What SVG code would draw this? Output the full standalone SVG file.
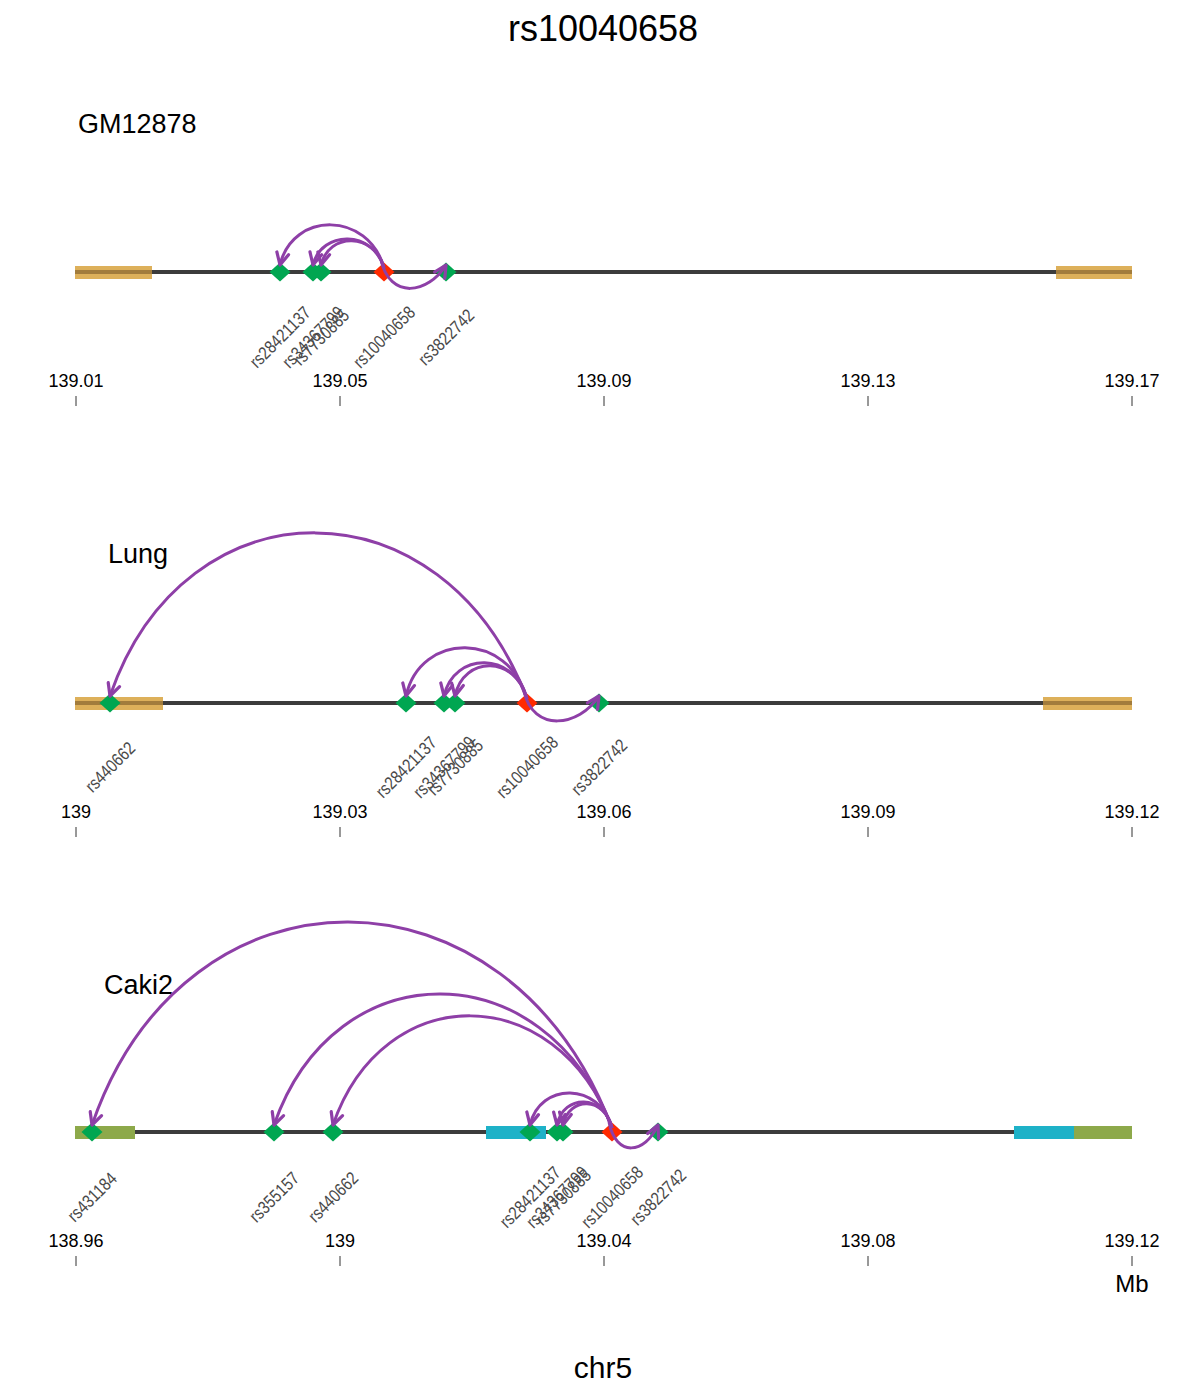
<svg xmlns="http://www.w3.org/2000/svg" xmlns:xlink="http://www.w3.org/1999/xlink" width="1200" height="1400" viewBox="0 0 1200 1400">
<style>
text{font-family:"Liberation Sans",Arial,sans-serif}
.title{font-size:36px;fill:#000;text-anchor:middle}
.panel{font-size:27px;fill:#000}
.tick{font-size:18px;fill:#000;text-anchor:middle}
.axis{font-size:30px;fill:#000;text-anchor:middle}
.snp{font-size:18px;fill:#4a4a4a;text-anchor:middle}
.track{stroke:#3c3c3c;stroke-width:4}
.tk{stroke:#333;stroke-width:1}
.gold{fill:#DDB05A}
.band{fill:#A27C3C}
.cyan{fill:#1EB2C8}
.olive{fill:#8DA94A}
.g{fill:#00A651}
.r{fill:#FF2A00}
.arc{fill:none;stroke:#8E3FA7;stroke-width:3;marker-end:url(#ah)}
</style>
<defs>
<path id="dia" d="M0,-9.5 L10.5,0 L0,9.5 L-10.5,0Z"/>
<marker id="ah" viewBox="0 0 16 16" refX="14" refY="8" markerWidth="16" markerHeight="16" markerUnits="userSpaceOnUse" orient="auto">
<path d="M2,2 L14,8 L2,14" fill="none" stroke="#8E3FA7" stroke-width="3.2" stroke-linecap="round" stroke-linejoin="round"/>
</marker>
</defs>
<rect width="1200" height="1400" fill="#fff"/>
<text class="title" x="603" y="41">rs10040658</text>

<!-- Panel 1 GM12878 -->
<g id="panel-gm12878">
<text class="panel" x="78" y="133">GM12878</text>
<line class="track" x1="75" y1="272" x2="1132" y2="272"/>
<rect id="gm-box1" class="gold" x="75" y="266" width="77" height="13"/>
<rect class="band" x="75" y="270" width="77" height="4"/>
<rect id="gm-box2" class="gold" x="1056" y="266" width="76" height="13"/>
<rect class="band" x="1056" y="270" width="76" height="4"/>
<g id="gm-axis">
<text class="tick" x="76" y="387">139.01</text><line class="tk" x1="76" y1="396" x2="76" y2="406"/>
<text class="tick" x="340" y="387">139.05</text><line class="tk" x1="340" y1="396" x2="340" y2="406"/>
<text class="tick" x="604" y="387">139.09</text><line class="tk" x1="604" y1="396" x2="604" y2="406"/>
<text class="tick" x="868" y="387">139.13</text><line class="tk" x1="868" y1="396" x2="868" y2="406"/>
<text class="tick" x="1132" y="387">139.17</text><line class="tk" x1="1132" y1="396" x2="1132" y2="406"/>
</g>
</g>
<g id="gm-rs28421137"><use href="#dia" class="g" x="280" y="272"/><text class="snp" transform="translate(280,337) rotate(-45) scale(0.83,1)" dy="0.35em">rs28421137</text></g>
<g id="gm-rs34367799"><use href="#dia" class="g" x="313" y="272"/><text class="snp" transform="translate(313,337) rotate(-45) scale(0.83,1)" dy="0.35em">rs34367799</text></g>
<g id="gm-rs7730885"><use href="#dia" class="g" x="321" y="272"/><text class="snp" transform="translate(321,337) rotate(-45) scale(0.83,1)" dy="0.35em">rs7730885</text></g>
<g id="gm-rs10040658"><use href="#dia" class="r" x="384" y="272"/><text class="snp" transform="translate(384,337) rotate(-45) scale(0.83,1)" dy="0.35em">rs10040658</text></g>
<g id="gm-rs3822742"><use href="#dia" class="g" x="446" y="272"/><text class="snp" transform="translate(446,337) rotate(-45) scale(0.83,1)" dy="0.35em">rs3822742</text></g>

<!-- Panel 2 Lung -->
<g id="panel-lung">
<text class="panel" x="108" y="563">Lung</text>
<line class="track" x1="75" y1="703" x2="1132" y2="703"/>
<rect id="lung-box1" class="gold" x="75" y="697" width="88" height="13"/>
<rect class="band" x="75" y="701" width="88" height="4"/>
<rect id="lung-box2" class="gold" x="1043" y="697" width="89" height="13"/>
<rect class="band" x="1043" y="701" width="89" height="4"/>
<g id="lung-axis">
<text class="tick" x="76" y="818">139</text><line class="tk" x1="76" y1="827" x2="76" y2="837"/>
<text class="tick" x="340" y="818">139.03</text><line class="tk" x1="340" y1="827" x2="340" y2="837"/>
<text class="tick" x="604" y="818">139.06</text><line class="tk" x1="604" y1="827" x2="604" y2="837"/>
<text class="tick" x="868" y="818">139.09</text><line class="tk" x1="868" y1="827" x2="868" y2="837"/>
<text class="tick" x="1132" y="818">139.12</text><line class="tk" x1="1132" y1="827" x2="1132" y2="837"/>
</g>
</g>
<g id="lung-rs440662"><use href="#dia" class="g" x="110" y="703"/><text class="snp" transform="translate(110,767) rotate(-45) scale(0.83,1)" dy="0.35em">rs440662</text></g>
<g id="lung-rs28421137"><use href="#dia" class="g" x="406" y="703"/><text class="snp" transform="translate(406,767) rotate(-45) scale(0.83,1)" dy="0.35em">rs28421137</text></g>
<g id="lung-rs34367799"><use href="#dia" class="g" x="444" y="703"/><text class="snp" transform="translate(444,767) rotate(-45) scale(0.83,1)" dy="0.35em">rs34367799</text></g>
<g id="lung-rs7730885"><use href="#dia" class="g" x="455" y="703"/><text class="snp" transform="translate(455,767) rotate(-45) scale(0.83,1)" dy="0.35em">rs7730885</text></g>
<g id="lung-rs10040658"><use href="#dia" class="r" x="527" y="703"/><text class="snp" transform="translate(527,767) rotate(-45) scale(0.83,1)" dy="0.35em">rs10040658</text></g>
<g id="lung-rs3822742"><use href="#dia" class="g" x="599" y="703"/><text class="snp" transform="translate(599,767) rotate(-45) scale(0.83,1)" dy="0.35em">rs3822742</text></g>

<!-- Panel 3 Caki2 -->
<g id="panel-caki2">
<text class="panel" x="104" y="994">Caki2</text>
<line class="track" x1="75" y1="1132" x2="1132" y2="1132"/>
<rect id="caki-box1" class="olive" x="75" y="1126" width="60" height="13"/>
<rect id="caki-box2" class="cyan" x="486" y="1126" width="60" height="13"/>
<rect id="caki-box3" class="cyan" x="1014" y="1126" width="60" height="13"/>
<rect id="caki-box4" class="olive" x="1074" y="1126" width="58" height="13"/>
<g id="caki-axis">
<text class="tick" x="76" y="1247">138.96</text><line class="tk" x1="76" y1="1256" x2="76" y2="1266"/>
<text class="tick" x="340" y="1247">139</text><line class="tk" x1="340" y1="1256" x2="340" y2="1266"/>
<text class="tick" x="604" y="1247">139.04</text><line class="tk" x1="604" y1="1256" x2="604" y2="1266"/>
<text class="tick" x="868" y="1247">139.08</text><line class="tk" x1="868" y1="1256" x2="868" y2="1266"/>
<text class="tick" x="1132" y="1247">139.12</text><line class="tk" x1="1132" y1="1256" x2="1132" y2="1266"/>
<text class="tick" x="1132" y="1292" style="font-size:24px">Mb</text>
</g>
</g>
<g id="caki-rs431184"><use href="#dia" class="g" x="92" y="1132"/><text class="snp" transform="translate(92,1197) rotate(-45) scale(0.83,1)" dy="0.35em">rs431184</text></g>
<g id="caki-rs355157"><use href="#dia" class="g" x="274" y="1132"/><text class="snp" transform="translate(274,1197) rotate(-45) scale(0.83,1)" dy="0.35em">rs355157</text></g>
<g id="caki-rs440662"><use href="#dia" class="g" x="333" y="1132"/><text class="snp" transform="translate(333,1197) rotate(-45) scale(0.83,1)" dy="0.35em">rs440662</text></g>
<g id="caki-rs28421137"><use href="#dia" class="g" x="530" y="1132"/><text class="snp" transform="translate(530,1197) rotate(-45) scale(0.83,1)" dy="0.35em">rs28421137</text></g>
<g id="caki-rs34367799"><use href="#dia" class="g" x="557" y="1132"/><text class="snp" transform="translate(557,1197) rotate(-45) scale(0.83,1)" dy="0.35em">rs34367799</text></g>
<g id="caki-rs7730885"><use href="#dia" class="g" x="563" y="1132"/><text class="snp" transform="translate(563,1197) rotate(-45) scale(0.83,1)" dy="0.35em">rs7730885</text></g>
<g id="caki-rs10040658"><use href="#dia" class="r" x="612" y="1132"/><text class="snp" transform="translate(612,1197) rotate(-45) scale(0.83,1)" dy="0.35em">rs10040658</text></g>
<g id="caki-rs3822742"><use href="#dia" class="g" x="658" y="1132"/><text class="snp" transform="translate(658,1197) rotate(-45) scale(0.83,1)" dy="0.35em">rs3822742</text></g>

<g id="connectors">
<path class="arc" d="M384,268 C368.4,211 292.5,211 280,265"/>
<path class="arc" d="M384,268 C373.4,229.7 321.5,229.7 313,265"/>
<path class="arc" d="M384,268 C374.6,232.3 328.6,232.3 321,265"/>
<path class="arc" d="M381,260 C390,300 428,294 446,265"/>

<path class="arc" d="M527,699 C443.6,478 185,478 110,696"/>
<path class="arc" d="M527,699 C508.9,631.3 420.5,631.3 406,696"/>
<path class="arc" d="M527,699 C514.6,651.3 454,651.3 444,696"/>
<path class="arc" d="M527,699 C516.2,655.3 463.6,655.3 455,696"/>
<path class="arc" d="M524,691 C533,733 579,727 599,696"/>

<path class="arc" d="M612,1128 C508,853.7 185.6,853.7 92,1125"/>
<path class="arc" d="M612,1128 C544.4,949.7 334.8,949.7 274,1125"/>
<path class="arc" d="M612,1128 C556.2,979 383.2,979 333,1125"/>
<path class="arc" d="M612,1128 C599.7,1081.7 539.8,1081.7 530,1125"/>
<path class="arc" d="M612,1128 C603.8,1093.7 563.6,1093.7 557,1125"/>
<path class="arc" d="M612,1128 C604.7,1096.3 568.9,1096.3 563,1125"/>
<path class="arc" d="M609,1122 C616,1158 645,1154 658,1125"/>
</g>

<text class="axis" x="603" y="1378">chr5</text>
</svg>
